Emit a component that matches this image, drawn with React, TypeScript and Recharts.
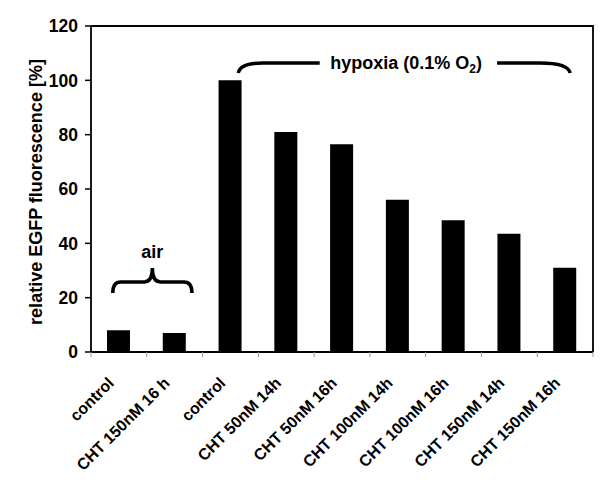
import { BarChart, Bar, XAxis, YAxis, Customized } from 'recharts';

// values
const CATEGORIES = [
  'control',
  'CHT 150nM 16 h',
  'control',
  'CHT 50nM 14h',
  'CHT 50nM 16h',
  'CHT 100nM 14h',
  'CHT 100nM 16h',
  'CHT 150nM 14h',
  'CHT 150nM 16h',
];
const FLUORESCENCE = [8, 7, 100, 81, 76.5, 56, 48.5, 43.5, 31];
const Y_TICKS = [0, 20, 40, 60, 80, 100, 120];

const FONT = "'Liberation Sans', Arial, Helvetica, sans-serif";

// plot geometry (chart is pinned to the page's top-left corner)
const W = 600;
const H = 488;
const PLOT_LEFT = 91;
const PLOT_TOP = 26;
const PLOT_RIGHT = 593;
const PLOT_BOTTOM = 352;
const BAND = (PLOT_RIGHT - PLOT_LEFT) / CATEGORIES.length;
const Y_MAX = 120;

const data = CATEGORIES.map((name, i) => ({ id: i, name, value: FLUORESCENCE[i] }));

// helpers in category-band / value units
const bx = (b: number) => PLOT_LEFT + b * BAND;
const vy = (v: number) => PLOT_BOTTOM - (v / Y_MAX) * (PLOT_BOTTOM - PLOT_TOP);

// rotated category label + tick marks at the band edges (Excel style)
function XTick(props: any) {
  const { x, payload } = props;
  const i = Number(payload.value);
  const cx = Number(x);
  const tx = cx - 4;
  const ty = PLOT_BOTTOM + 32;
  return (
    <g>
      <line x1={cx - BAND / 2} y1={PLOT_BOTTOM} x2={cx - BAND / 2} y2={PLOT_BOTTOM + 5} stroke="#999" strokeWidth={1} />
      {i === CATEGORIES.length - 1 && (
        <line x1={cx + BAND / 2} y1={PLOT_BOTTOM} x2={cx + BAND / 2} y2={PLOT_BOTTOM + 5} stroke="#999" strokeWidth={1} />
      )}
      <g transform={`translate(${tx} ${ty}) rotate(-45)`}>
        <text x={0} y={0} textAnchor="end" fontFamily={FONT} fontWeight="bold" fontSize={16} fill="#000">
          {CATEGORIES[i]}
        </text>
      </g>
    </g>
  );
}

function Annotations() {
  // air brace
  const a1 = bx(0.39);
  const a2 = bx(1.81);
  const am = bx(1.1);
  const aEnd = vy(21.7);
  const aH = vy(25.8);
  const aTip = vy(30.9);
  const r = 8;
  const airPath = `M ${a1} ${aEnd} Q ${a1} ${aH} ${a1 + r} ${aH} L ${am - r} ${aH} Q ${am} ${aH} ${am} ${aTip} Q ${am} ${aH} ${am + r} ${aH} L ${a2 - r} ${aH} Q ${a2} ${aH} ${a2} ${aEnd}`;

  // hypoxia bracket
  const h1 = bx(2.64);
  const hEnd = vy(102.7);
  const hH = vy(106.4);
  const hc1 = bx(3.08);
  const hl = bx(4.1);
  const hr = bx(7.28);
  const hc2 = bx(8.05);
  const h2 = bx(8.59);
  const leftPath = `M ${h1} ${hEnd} Q ${h1 + 2} ${hH} ${hc1} ${hH} L ${hl} ${hH}`;
  const rightPath = `M ${hr} ${hH} L ${hc2} ${hH} Q ${h2 - 2} ${hH} ${h2} ${hEnd}`;

  return (
    <g>
      {/* plot frame: top and right edges */}
      <polyline
        points={`${PLOT_LEFT},${PLOT_TOP} ${PLOT_RIGHT},${PLOT_TOP} ${PLOT_RIGHT},${PLOT_BOTTOM}`}
        fill="none"
        stroke="#000"
        strokeWidth={1.8}
      />
      <path d={airPath} fill="none" stroke="#000" strokeWidth={3.5} />
      <text x={am} y={vy(34.6)} textAnchor="middle" fontFamily={FONT} fontWeight="bold" fontSize={18} fill="#000">
        air
      </text>
      <path d={leftPath} fill="none" stroke="#000" strokeWidth={3.5} />
      <path d={rightPath} fill="none" stroke="#000" strokeWidth={3.5} />
      <text x={bx(5.65)} y={hH + 6} textAnchor="middle" fontFamily={FONT} fontWeight="bold" fontSize={18} fill="#000">
        hypoxia (0.1% O
        <tspan dy={4} fontSize={12}>2</tspan>
        <tspan dy={-4}>)</tspan>
      </text>
      {/* y axis title */}
      <g transform="translate(36 192) rotate(-90)">
        <text
          x={0}
          y={0}
          textAnchor="middle"
          dominantBaseline="central"
          fontFamily={FONT}
          fontWeight="bold"
          fontSize={18}
          fill="#000"
        >
          relative EGFP fluorescence [%]
        </text>
      </g>
    </g>
  );
}

export default function App() {
  return (
    <div style={{ position: 'absolute', left: 0, top: 0, width: W, height: H, background: '#fff' }}>
      <BarChart
        width={W}
        height={H}
        data={data}
        margin={{ top: PLOT_TOP, right: W - PLOT_RIGHT, left: 0, bottom: 0 }}
      >
        <XAxis
          dataKey="id"
          type="category"
          height={H - PLOT_BOTTOM}
          interval={0}
          tickLine={false}
          axisLine={{ stroke: '#000', strokeWidth: 1.8 }}
          tick={<XTick />}
        />
        <YAxis
          width={PLOT_LEFT}
          domain={[0, Y_MAX]}
          ticks={Y_TICKS}
          interval={0}
          tickSize={6}
          tickMargin={7}
          axisLine={{ stroke: '#000', strokeWidth: 1.8 }}
          tickLine={{ stroke: '#000', strokeWidth: 1.5 }}
          tick={{ fill: '#000', fontFamily: FONT, fontWeight: 'bold', fontSize: 17.5 }}
        />
        <Bar dataKey="value" fill="#000" barSize={23} isAnimationActive={false} />
        <Customized component={<Annotations />} />
      </BarChart>
    </div>
  );
}
